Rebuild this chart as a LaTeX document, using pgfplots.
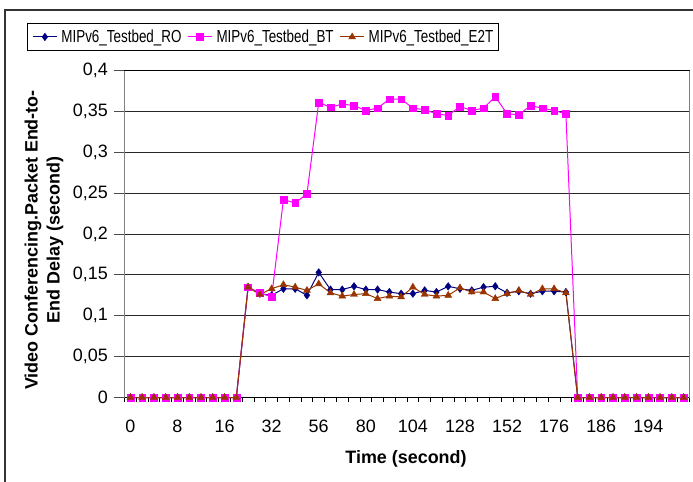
\documentclass[border=0pt]{standalone}
\usepackage{pgfplots}
\pgfplotsset{compat=1.18}
\usepackage{fontspec}
\setmainfont{Liberation Sans}
\newfontfamily\legfont{Liberation Sans}[FakeStretch=0.77]

\definecolor{rocolor}{HTML}{000080}
\definecolor{btcolor}{HTML}{FF00FF}
\definecolor{etcolor}{HTML}{993300}

% index 0..47 (categories), value in seconds
\pgfplotstableread{
i  ro     bt     et
0  0      0      0
1  0      0      0
2  0      0      0
3  0      0      0
4  0      0      0
5  0      0      0
6  0      0      0
7  0      0      0
8  0      0      0
9  0      0      0
10 0.135  0.135  0.135
11 0.127  0.128  0.126
12 0.125  0.123  0.133
13 0.133  0.242  0.138
14 0.133  0.238  0.135
15 0.125  0.249  0.131
16 0.153  0.361  0.139
17 0.132  0.355  0.128
18 0.132  0.359  0.124
19 0.136  0.357  0.126
20 0.132  0.351  0.127
21 0.132  0.354  0.121
22 0.129  0.365  0.124
23 0.127  0.365  0.123
24 0.127  0.354  0.135
25 0.131  0.352  0.126
26 0.129  0.347  0.124
27 0.136  0.345  0.125
28 0.133  0.356  0.134
29 0.131  0.351  0.129
30 0.135  0.354  0.129
31 0.136  0.368  0.121
32 0.128  0.347  0.127
33 0.130  0.346  0.131
34 0.127  0.357  0.126
35 0.130  0.354  0.133
36 0.130  0.351  0.133
37 0.129  0.347  0.128
38 0      0      0
39 0      0      0
40 0      0      0
41 0      0      0
42 0      0      0
43 0      0      0
44 0      0      0
45 0      0      0
46 0      0      0
47 0      0      0
}\delaytable

\begin{document}
\begin{tikzpicture}
\useasboundingbox (-124.5bp,-84.5bp) rectangle (568.5bp,397.5bp);
\draw[black!80, line width=1.5bp] (-119.5bp,-120bp) -- (-119.5bp,387.5bp) -- (620bp,387.5bp);
\begin{axis}[
    scale only axis, width=565bp, height=327bp,
    xmin=-0.5, xmax=47.5, ymin=0, ymax=0.4,
    xtick={0,4,...,44},
    xticklabels={0,8,16,32,56,80,104,128,152,176,186,194},
    minor xtick={-0.5,0.5,...,47.5},
    ytick={0,0.05,0.1,0.15,0.2,0.25,0.3,0.35,0.4},
    yticklabel style={/pgf/number format/fixed, /pgf/number format/precision=2, /pgf/number format/use comma},
    scaled y ticks=false,
    /pgf/number format/assume math mode=true,
    tick label style={font=\fontsize{18}{21}\selectfont},
    xticklabel style={anchor=base, inner sep=0pt, yshift=-34.5bp},
    yticklabel style={anchor=east, inner sep=0pt, xshift=-16.5bp},
    % ticks drawn inside and shifted out, so the labels are not moved by pgfplots
    tick align=inside, xtick pos=bottom, ytick pos=left,
    major tick length=10bp, minor tick length=4bp,
    major x tick style={draw=none},
    minor x tick style={black, line width=0.8bp, yshift=-4bp},
    ytick style={black!70, line width=0.8bp, xshift=-10bp},
    ymajorgrids, major grid style={black!85, line width=0.8bp, xshift=0bp},
    separate axis lines,
    axis line style={line width=0.8bp},
    every outer x axis line/.append style={black},
    every outer y axis line/.append style={black!50},
    legend columns=3,
    legend cell align=left,
    legend style={at={(-0.17257,1.14526)}, anchor=north west, draw=black, line width=0.8bp,
        fill=white, font=\legfont\fontsize{17.5}{20}\selectfont,
        inner xsep=5bp, inner ysep=6.5bp, nodes={inner sep=0pt},
        /tikz/every odd column/.append style={column sep=4bp},
        /tikz/every even column/.append style={column sep=6bp}},
    legend image code/.code={\draw[mark repeat=2,mark phase=2,#1] plot coordinates {(0bp,0bp) (12bp,0bp) (24bp,0bp)};},
    clip=false,
]
\addplot[color=rocolor, line width=1bp, mark=diamond*, mark size=3.8bp, mark options={solid, line width=0.4bp}] table[x=i, y=ro] {\delaytable};
\addplot[color=btcolor, line width=1bp, mark=square*, mark size=3.4bp, mark options={solid, line width=0.4bp}] table[x=i, y=bt] {\delaytable};
\addplot[color=etcolor, line width=1bp, mark=triangle*, mark size=4bp, mark options={solid, line width=0.4bp}] table[x=i, y=et] {\delaytable};
\legend{MIPv6\_Testbed\_RO, MIPv6\_Testbed\_BT, MIPv6\_Testbed\_E2T}
\end{axis}
\node[rotate=90, align=center, font=\bfseries\fontsize{18}{22}\selectfont] at (-80.5bp,157.5bp)
    {Video Conferencing.Packet End-to-\\End Delay (second)};
\node[anchor=base, font=\bfseries\fontsize{18}{22}\selectfont] at (281.5bp,-65.5bp) {Time (second)};
\end{tikzpicture}
\end{document}
